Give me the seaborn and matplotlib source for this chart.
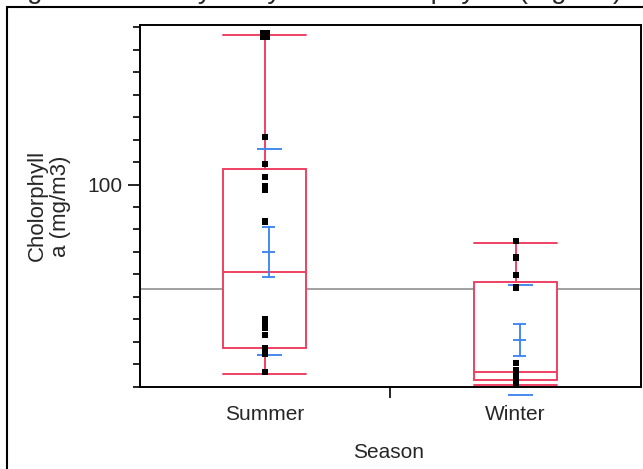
import numpy as np
import pandas as pd
import matplotlib
matplotlib.use("Agg")
import matplotlib.pyplot as plt
from matplotlib.lines import Line2D
import seaborn as sns

# ---------------- data ----------------
seasons = ["Summer", "Winter"]
summer_values = [166.6, 166.6, 121.2, 109.0, 103.4, 99.5, 97.7, 83.5,
                 40.1, 38.6, 36.0, 33.0, 27.0, 25.8, 24.6, 16.5]
winter_values = [74.8, 67.5, 59.7, 54.2, 20.5, 17.3, 16.0, 14.8,
                 13.9, 13.0, 12.2, 11.5]

# quantile box statistics
box_q1 = [27.3, 13.2]
box_median = [61.1, 16.4]
box_q3 = [106.7, 56.6]
box_low = [15.7, 10.6]
box_high = [166.4, 73.8]

# mean error bars / std dev lines
group_mean = [70.0, 30.8]
group_se = [11.2, 7.1]
group_sd = [46.0, 24.4]
grand_mean = 53.3

y_major = [100]
y_minor = list(range(10, 171, 10))

title_text = "Figure 3. Weekly Daily Max Cholorphyll a (mg/m3)"
y_label = "Cholorphyll\na (mg/m3)"
x_label = "Season"

RED = "#EE3A5E"
BLUE = "#3D86F0"
GREY = "#999999"

# ---------------- style ----------------
sns.set_style("ticks")
plt.rcParams["font.family"] = ["Liberation Sans", "DejaVu Sans"]

W, H = 643, 469
fig = plt.figure(figsize=(W / 100, H / 100), dpi=100)
left, right, top, bottom = 139.5, 641, 25, 386.7
ax = fig.add_axes([left / W, 1 - bottom / H, (right - left) / W, (bottom - top) / H])

# grand mean reference line
ax.axhline(grand_mean, color=GREY, lw=1.3, zorder=1)

# quantile boxes
stats = [dict(med=box_median[i], q1=box_q1[i], q3=box_q3[i],
              whislo=box_low[i], whishi=box_high[i], fliers=[], label=seasons[i])
         for i in range(len(seasons))]
bw = 0.331
LW = 1.35
ax.bxp(stats, positions=range(len(seasons)), widths=bw, capwidths=bw,
       patch_artist=True, showfliers=False,
       boxprops=dict(facecolor="white", edgecolor=RED, lw=LW),
       medianprops=dict(color=RED, lw=LW),
       whiskerprops=dict(color=RED, lw=LW),
       capprops=dict(color=RED, lw=LW), zorder=2)

# mean error bars and std dev lines
off = 0.016
se_w = 0.052
sd_w = 0.10
for i in range(len(seasons)):
    xm = i + off
    m, se, sd = group_mean[i], group_se[i], group_sd[i]
    ax.plot([xm, xm], [m - se, m + se], color=BLUE, lw=LW, zorder=4)
    ax.hlines([m - se, m, m + se], xm - se_w / 2, xm + se_w / 2, color=BLUE, lw=LW, zorder=4)
    ax.hlines([m - sd, m + sd], xm - sd_w / 2 + 0.004, xm + sd_w / 2 + 0.004,
              color=BLUE, lw=LW, zorder=4, clip_on=False)

# points
df = pd.DataFrame({
    "Season": ["Summer"] * len(summer_values) + ["Winter"] * len(winter_values),
    "value": summer_values + winter_values,
})
pts = df.groupby(["Season", "value"]).size().reset_index(name="n")
pts["x"] = pts["Season"].map({s: i for i, s in enumerate(seasons)})
sns.scatterplot(data=pts, x="x", y="value", size="n", sizes={1: 20, 2: 48},
                marker="s", color="black", linewidth=0, legend=False, ax=ax, zorder=5)

# axes
ax.set_xlim(-0.5, 1.5)
ax.set_ylim(10, 171)
ax.set_yticks(y_major)
ax.set_yticklabels([str(v) for v in y_major])
ax.set_yticks(y_minor, minor=True)
ax.set_xticks(range(len(seasons)))
ax.set_xticklabels(seasons)
ax.set_xticks([0.5], minor=True)
ax.tick_params(axis="y", which="major", length=9, width=1.2, labelsize=15, pad=3, left=True, color="black")
ax.tick_params(axis="y", which="minor", length=5, width=1.2, left=True, color="black")
ax.tick_params(axis="x", which="major", length=0, pad=13, labelsize=15)
ax.tick_params(axis="x", which="minor", length=8, width=1.2, bottom=True, color="black")
for s in ax.spines.values():
    s.set_color("black")
    s.set_linewidth(1.4)
    s.set_visible(True)

ax.set_ylabel(y_label, fontsize=16, linespacing=1.1, va="center", ha="center")
ax.yaxis.set_label_coords((49 - left) / (right - left), 0.5)
ax.set_xlabel(x_label, fontsize=15, va="center")
ax.xaxis.set_label_coords(0.497, (bottom - 452.7) / (bottom - top))

# outer frame and title (cut off at the top edge, as in the source image)
fig.add_artist(Line2D([7 / W, 1.0], [1 - 7 / H] * 2, transform=fig.transFigure, color="black", lw=1.5))
fig.add_artist(Line2D([7 / W] * 2, [0, 1 - 7 / H], transform=fig.transFigure, color="black", lw=1.5))
fig.text(4 / W, 1 + 1.5 / H, title_text, fontsize=20, va="baseline", ha="left")

fig.savefig("out.png", dpi=100)
